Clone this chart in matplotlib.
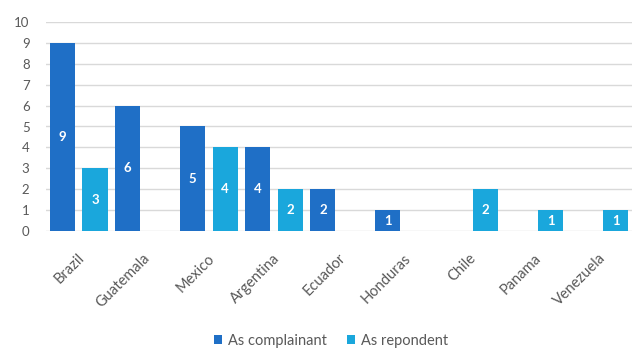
import matplotlib
matplotlib.use("Agg")
import matplotlib.pyplot as plt
from matplotlib.patches import Patch
from matplotlib.transforms import ScaledTranslation
import numpy as np

countries = ["Brazil", "Guatemala", "Mexico", "Argentina", "Ecuador",
             "Honduras", "Chile", "Panama", "Venezuela"]
as_complainant = [9, 6, 5, 4, 2, 1, 0, 0, 0]
as_respondent = [3, 0, 4, 2, 0, 0, 2, 1, 1]
y_ticks = list(range(0, 11))

c_comp = "#1f6fc6"
c_resp = "#1aa7dc"
text_col = "#595959"
grid_col = "#d9d9d9"

plt.rcParams["font.family"] = ["Lato", "DejaVu Sans"]

fig = plt.figure(figsize=(6.32, 3.49), dpi=100)
ax = fig.add_axes([46.2 / 632, 118 / 349, (632 - 46.2) / 632, (231 - 22) / 349])

x = np.arange(len(countries))
offset = 0.25
width = 0.385

bars_c = ax.bar(x - offset, as_complainant, width, color=c_comp, zorder=3)
bars_r = ax.bar(x + offset, as_respondent, width, color=c_resp, zorder=3)

for bars, vals in ((bars_c, as_complainant), (bars_r, as_respondent)):
    for b, v in zip(bars, vals):
        if v > 0:
            ax.text(b.get_x() + b.get_width() / 2, v / 2, str(v),
                    ha="center", va="center", color="white",
                    fontsize=9.5, fontweight="bold", zorder=4)

ax.set_xlim(-0.5, len(countries) - 0.5)
ax.set_ylim(0, 10)
ax.set_yticks(y_ticks)
ax.yaxis.grid(True, color=grid_col, linewidth=1, zorder=0)
ax.set_axisbelow(True)
for s in ax.spines.values():
    s.set_visible(False)

ax.tick_params(axis="y", length=0, pad=12, labelsize=9.5, labelcolor=text_col)
ax.tick_params(axis="x", length=0, pad=18, labelsize=10.5, labelcolor=text_col)

ax.set_xticks(x)
ax.set_xticklabels(countries)
shift = ScaledTranslation(4 / 100, 0, fig.dpi_scale_trans)
for lbl in ax.get_xticklabels():
    lbl.set_rotation(45)
    lbl.set_ha("right")
    lbl.set_va("center")
    lbl.set_rotation_mode("anchor")
    lbl.set_transform(lbl.get_transform() + shift)

handles = [Patch(facecolor=c_comp, label="As complainant"),
           Patch(facecolor=c_resp, label="As repondent")]
fig.legend(handles=handles, loc="center", ncol=2,
           bbox_to_anchor=(331 / 632, 1 - 341 / 349),
           frameon=False, fontsize=10.5, labelcolor=text_col,
           handlelength=0.55, handleheight=0.55, handletextpad=0.4,
           columnspacing=1.4)

fig.savefig("out.png", dpi=100)
